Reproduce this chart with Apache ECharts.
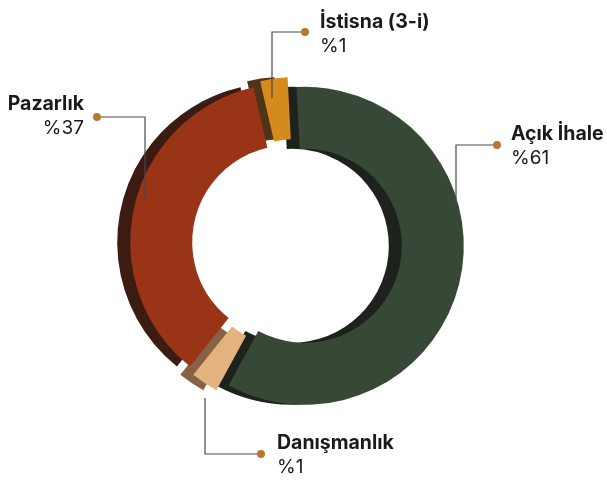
<!DOCTYPE html>
<html>
<head>
<meta charset="utf-8">
<script src="https://cdn.jsdelivr.net/npm/echarts@6/dist/echarts.min.js"></script>
<style>
html,body{margin:0;padding:0;background:#fff;}
#chart{width:607px;height:480px;}
</style>
</head>
<body>
<div id="chart"></div>
<script>
// ---- data ----
const categories = ['Açık İhale', 'Danışmanlık', 'Pazarlık', 'İstisna (3-i)'];
const values = [61, 1, 37, 1];
const percentLabels = ['%61', '%1', '%37', '%1'];

// ---- styles ----
const frontColors = ['#384836', '#e4b27f', '#9a3417', '#d58a1e'];
const sideColors = ['#1d231c', '#866246', '#3c1c12', '#4f3419'];

// ---- annotation layout (name/percent text anchor, dot, elbow, end) ----
const labelLayout = [
  { tx: 511, ty: 134, align: 'left', dot: [497, 145], elbow: [456, 145], end: [456, 205] },
  { tx: 277, ty: 443, align: 'left', dot: [261, 454], elbow: [205, 454], end: [205, 398] },
  { tx: 84, ty: 104, align: 'right', dot: [97, 117], elbow: [145, 117], end: [145, 200] },
  { tx: 320, ty: 22, align: 'left', dot: [305, 32], elbow: [272, 32], end: [272, 98] }
];

const FONT = 'Inter, "Noto Sans", sans-serif';

const chart = echarts.init(document.getElementById('chart'), null, { renderer: 'canvas' });

function pieSeries(center, colors, z) {
  return {
    type: 'pie',
    center: center,
    radius: [97, 159],
    startAngle: 93,
    minAngle: 10,
    selectedMode: 'multiple',
    selectedOffset: 8,
    silent: true,
    animation: false,
    z: z,
    label: { show: false },
    labelLine: { show: false },
    itemStyle: { borderWidth: 0 },
    select: { itemStyle: { borderWidth: 0 } },
    data: values.map((v, i) => ({
      value: v,
      name: categories[i],
      selected: true,
      itemStyle: { color: colors[i] },
      select: { itemStyle: { color: colors[i] } }
    }))
  };
}

const graphics = [];
labelLayout.forEach((l, i) => {
  graphics.push({
    type: 'polyline', silent: true, z: 10,
    shape: { points: [l.dot, l.elbow, l.end] },
    style: { stroke: '#4a4a4a', lineWidth: 1.2, fill: null }
  });
  graphics.push({
    type: 'circle', silent: true, z: 11,
    shape: { cx: l.dot[0], cy: l.dot[1], r: 4 },
    style: { fill: '#b7782f' }
  });
  graphics.push({
    type: 'text', silent: true, z: 11,
    x: l.tx, y: l.ty,
    style: {
      text: categories[i], font: 'bold 19.5px ' + FONT, fill: '#1a1a1a',
      align: l.align, verticalAlign: 'middle'
    }
  });
  graphics.push({
    type: 'text', silent: true, z: 11,
    x: l.tx, y: l.ty + 24,
    style: {
      text: percentLabels[i], font: '19px ' + FONT, fill: '#1a1a1a',
      align: l.align, verticalAlign: 'middle'
    }
  });
});

chart.setOption({
  backgroundColor: '#ffffff',
  animation: false,
  series: [
    pieSeries([284, 244], sideColors, 1),
    pieSeries([297, 244], frontColors, 2)
  ],
  graphic: graphics
});
</script>
</body>
</html>
